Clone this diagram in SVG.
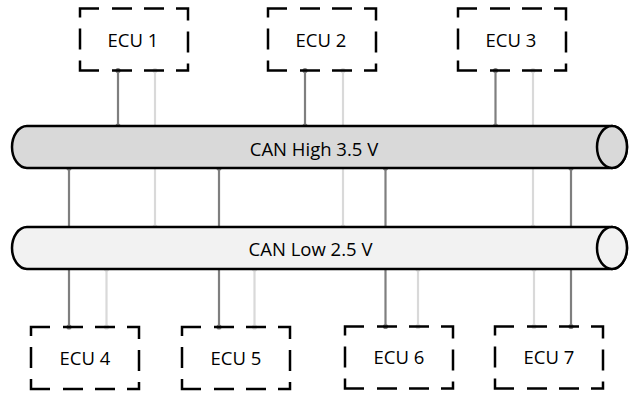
<svg xmlns="http://www.w3.org/2000/svg" width="629" height="394" viewBox="0 0 629 394">
<style>
.box{fill:none;stroke:#000;stroke-width:2.5;stroke-dasharray:0 7 20 12 20 12 24 11 21 11 19 12 20 12 20 13 29 11 21 11 28 6;}
.lbl{font-family:"Open Sans","DejaVu Sans",sans-serif;font-size:18.5px;fill:#000;text-anchor:middle;}
.dk{stroke:#7f7f7f;stroke-width:2.2;fill:none;marker-start:url(#md);marker-end:url(#md);}
.lt{stroke:#d9d9d9;stroke-width:2.2;fill:none;marker-start:url(#ml);marker-end:url(#ml);}
.bus{stroke:#000;stroke-width:2.5;}
</style>
<defs>
<marker id="md" markerUnits="userSpaceOnUse" markerWidth="8" markerHeight="8" refX="4" refY="4" viewBox="0 0 8 8"><circle cx="4" cy="4" r="2.6" fill="#7f7f7f"/></marker>
<marker id="ml" markerUnits="userSpaceOnUse" markerWidth="8" markerHeight="8" refX="4" refY="4" viewBox="0 0 8 8"><circle cx="4" cy="4" r="2.6" fill="#d9d9d9"/></marker>
</defs>
<rect width="629" height="394" fill="#fff"/>
<g id="connectors">
<line class="dk" x1="118" y1="70.5" x2="118" y2="126"/>
<line class="lt" x1="155" y1="70.5" x2="155" y2="227"/>
<line class="dk" x1="305" y1="70.5" x2="305" y2="126"/>
<line class="lt" x1="343" y1="70.5" x2="343" y2="227"/>
<line class="dk" x1="495.5" y1="70.5" x2="495.5" y2="126"/>
<line class="lt" x1="533" y1="70.5" x2="533" y2="227"/>
<line class="dk" x1="69" y1="327" x2="69" y2="168"/>
<line class="lt" x1="106.5" y1="327" x2="106.5" y2="269"/>
<line class="dk" x1="219" y1="327" x2="219" y2="168"/>
<line class="lt" x1="254.5" y1="327" x2="254.5" y2="269"/>
<line class="dk" x1="385.5" y1="326.5" x2="385.5" y2="168"/>
<line class="lt" x1="418" y1="326.5" x2="418" y2="269"/>
<line class="dk" x1="571" y1="326.5" x2="571" y2="168"/>
<line class="lt" x1="534" y1="326.5" x2="534" y2="269"/>
</g>
<g id="can-high">
<path class="bus" fill="#d9d9d9" d="M27,126 H612 A15,21 0 0 1 612,168 H27 A15,21 0 0 1 27,126 Z"/>
<ellipse class="bus" fill="#d9d9d9" cx="612" cy="147" rx="15" ry="21"/>
<text class="lbl" x="314" y="156">CAN High 3.5 V</text>
</g>
<g id="can-low">
<path class="bus" fill="#f2f2f2" d="M27,227 H612 A15,21 0 0 1 612,269 H27 A15,21 0 0 1 27,227 Z"/>
<ellipse class="bus" fill="#f2f2f2" cx="612" cy="248" rx="15" ry="21"/>
<text class="lbl" x="310.5" y="256">CAN Low 2.5 V</text>
</g>
<g id="ecu1">
<path class="box" d="M105,8.5 H188 V70.5 H80 V8.5 H105 Z"/>
<text class="lbl" x="133" y="46.5">ECU 1</text>
</g>
<g id="ecu2">
<path class="box" d="M293,8.5 H376 V70.5 H268 V8.5 H293 Z"/>
<text class="lbl" x="321" y="46.5">ECU 2</text>
</g>
<g id="ecu3">
<path class="box" d="M483,8.5 H566 V70.5 H458 V8.5 H483 Z"/>
<text class="lbl" x="511" y="46.5">ECU 3</text>
</g>
<g id="ecu4">
<path class="box" d="M56,327 H139 V389 H31 V327 H56 Z"/>
<text class="lbl" x="85" y="364.5">ECU 4</text>
</g>
<g id="ecu5">
<path class="box" d="M207,327 H290 V389 H182 V327 H207 Z"/>
<text class="lbl" x="236" y="364.5">ECU 5</text>
</g>
<g id="ecu6">
<path class="box" d="M370,326.5 H453 V388.5 H345 V326.5 H370 Z"/>
<text class="lbl" x="399" y="364">ECU 6</text>
</g>
<g id="ecu7">
<path class="box" d="M520,326.5 H603 V388.5 H495 V326.5 H520 Z"/>
<text class="lbl" x="549" y="364">ECU 7</text>
</g>
</svg>
